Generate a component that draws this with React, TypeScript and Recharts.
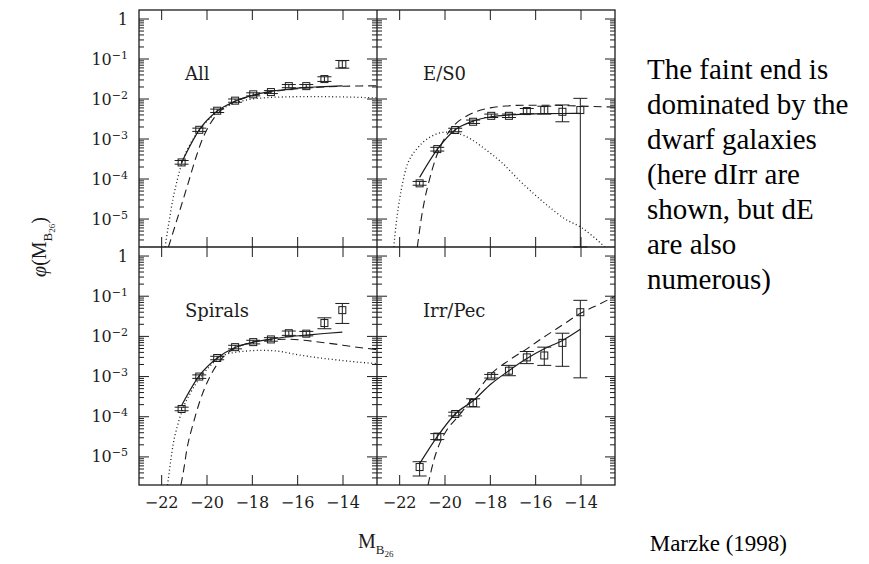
import React from "react";
import { ComposedChart, Line, XAxis, YAxis, ErrorBar } from "recharts";

const INK = "#1c1c1c";
const PG_FONT = "'DejaVu Serif', serif";
const TIMES = "'Liberation Serif', 'Times New Roman', serif";

// axes
const X_DOMAIN: [number, number] = [-23, -12.5];
const Y_DOMAIN: [number, number] = [2e-6, 1.679];
const xTickValues = [-22, -20, -18, -16, -14];
const yDecades = [-6, -5, -4, -3, -2, -1, 0];
const yMultipliers = [1, 2, 3, 4, 5, 6, 7, 8, 9];

// magnitude bins of the data points (shared by all panels)
const binMag = [-21.12, -20.34, -19.55, -18.76, -17.96, -17.18, -16.39, -15.62, -14.82, -14.03];

// All
const allPhi = [2.6e-4, 1.7e-3, 5.1e-3, 9.1e-3, 1.31e-2, 1.49e-2, 2.1e-2, 2.1e-2, 3.15e-2, 7.4e-2];
const allLo = [2.35e-4, 1.55e-3, 4.6e-3, 8.3e-3, 1.2e-2, 1.37e-2, 1.92e-2, 1.92e-2, 2.75e-2, 5.9e-2];
const allHi = [2.9e-4, 1.87e-3, 5.6e-3, 1.0e-2, 1.43e-2, 1.62e-2, 2.3e-2, 2.3e-2, 3.6e-2, 9.2e-2];
const allFit = [2.6e-4, 1.7e-3, 5.0e-3, 8.8e-3, 1.25e-2, 1.55e-2, 1.78e-2, 1.95e-2, 2.05e-2, 2.14e-2];
const allDashM = [-21.7, -21.4, -21.1, -20.8, -20.5, -20.2, -19.9, -19.6, -19.2, -18.8, -18.3, -17.6, -17.0, -16.0, -15.0, -14.0, -13.0, -12.5];
const allDashPhi = [2e-6, 7e-6, 2.5e-5, 9e-5, 3.3e-4, 1.0e-3, 2.2e-3, 3.9e-3, 6.3e-3, 8.5e-3, 1.08e-2, 1.35e-2, 1.55e-2, 1.8e-2, 1.98e-2, 2.08e-2, 2.13e-2, 2.14e-2];
const allDotM = [-21.85, -21.7, -21.5, -21.3, -21.1, -20.8, -20.4, -20.0, -19.6, -19.2, -18.75, -18.2, -17.5, -16.5, -15.5, -14.5, -13.5, -12.5];
const allDotPhi = [2e-6, 7e-6, 3.2e-5, 1.0e-4, 2.6e-4, 6.5e-4, 1.5e-3, 2.8e-3, 4.5e-3, 6.3e-3, 8.0e-3, 9.6e-3, 1.07e-2, 1.13e-2, 1.15e-2, 1.14e-2, 1.11e-2, 1.06e-2];

// E/S0
const esPhi = [7.8e-5, 5.6e-4, 1.68e-3, 2.7e-3, 3.8e-3, 3.8e-3, 5.0e-3, 5.3e-3, 4.8e-3, 5.3e-3];
const esLo = [7.0e-5, 5.0e-4, 1.52e-3, 2.45e-3, 3.45e-3, 3.45e-3, 4.3e-3, 4.2e-3, 2.7e-3, 2e-6];
const esHi = [8.7e-5, 6.2e-4, 1.86e-3, 2.98e-3, 4.2e-3, 4.2e-3, 5.8e-3, 6.6e-3, 7.1e-3, 1.04e-2];
const esFit = [1.1e-4, 5.5e-4, 1.7e-3, 2.8e-3, 3.6e-3, 4.0e-3, 4.2e-3, 4.3e-3, 4.35e-3, 4.4e-3];
const esDashM = [-21.22, -21.05, -20.9, -20.7, -20.4, -20.1, -19.8, -19.5, -19.1, -18.6, -18.0, -17.3, -16.5, -15.5, -14.5, -13.5, -12.5];
const esDashPhi = [2e-6, 1e-5, 3e-5, 9e-5, 3.4e-4, 8.5e-4, 1.6e-3, 2.5e-3, 3.6e-3, 4.9e-3, 6.0e-3, 6.7e-3, 7.0e-3, 7.0e-3, 6.8e-3, 6.5e-3, 6.3e-3];
const esDotM = [-22.26, -22.15, -22.0, -21.85, -21.7, -21.5, -21.26, -21.0, -20.68, -20.3, -19.95, -19.6, -19.2, -18.8, -18.2, -17.5, -16.7, -16.0, -15.4, -14.7, -14.0, -13.5, -12.95];
const esDotPhi = [2e-6, 8e-6, 3.2e-5, 9e-5, 2e-4, 3.6e-4, 5.5e-4, 8e-4, 1.1e-3, 1.38e-3, 1.48e-3, 1.45e-3, 1.25e-3, 9.5e-4, 5.4e-4, 2.6e-4, 9e-5, 3.9e-5, 2.0e-5, 1.0e-5, 6.2e-6, 3.8e-6, 2e-6];

// Spirals
const spPhi = [1.56e-4, 1.0e-3, 2.9e-3, 5.4e-3, 7.2e-3, 8.4e-3, 1.2e-2, 1.17e-2, 2.15e-2, 4.5e-2];
const spLo = [1.41e-4, 0.9e-3, 2.62e-3, 4.9e-3, 6.5e-3, 7.6e-3, 1.06e-2, 1.03e-2, 1.55e-2, 2.1e-2];
const spHi = [1.73e-4, 1.1e-3, 3.2e-3, 6.0e-3, 8.0e-3, 9.3e-3, 1.36e-2, 1.33e-2, 2.9e-2, 6.6e-2];
const spFit = [1.9e-4, 1.05e-3, 2.9e-3, 5.3e-3, 7.2e-3, 8.6e-3, 9.8e-3, 1.08e-2, 1.18e-2, 1.28e-2];
const spDashM = [-21.15, -21.0, -20.9, -20.6, -20.31, -20.0, -19.73, -19.4, -19.1, -18.76, -18.3, -17.7, -17.1, -16.5, -15.8, -15.2, -14.5, -13.5, -12.5];
const spDashPhi = [2e-6, 6e-6, 1.4e-5, 7e-5, 2.5e-4, 7e-4, 1.4e-3, 2.6e-3, 3.8e-3, 5.1e-3, 6.5e-3, 7.7e-3, 8.3e-3, 8.5e-3, 8.1e-3, 7.4e-3, 6.6e-3, 5.5e-3, 4.7e-3];
const spDotM = [-21.74, -21.6, -21.49, -21.3, -21.1, -20.7, -20.34, -19.9, -19.55, -19.2, -18.76, -18.2, -17.6, -16.9, -16.0, -15.0, -14.0, -13.0, -12.5];
const spDotPhi = [2e-6, 8e-6, 2.1e-5, 6e-5, 1.4e-4, 4.2e-4, 8.8e-4, 1.75e-3, 2.7e-3, 3.5e-3, 4.0e-3, 4.35e-3, 4.5e-3, 4.3e-3, 3.5e-3, 2.9e-3, 2.5e-3, 2.2e-3, 2.1e-3];

// Irr/Pec
const irPhi = [5.6e-6, 3.2e-5, 1.17e-4, 2.2e-4, 1.02e-3, 1.4e-3, 3.0e-3, 3.35e-3, 6.9e-3, 4.0e-2];
const irLo = [3.35e-6, 2.7e-5, 1.05e-4, 1.75e-4, 0.92e-3, 1.05e-3, 2.1e-3, 1.9e-3, 1.8e-3, 9.3e-4];
const irHi = [7.6e-6, 3.8e-5, 1.3e-4, 2.8e-4, 1.13e-3, 1.9e-3, 4.2e-3, 5.4e-3, 1.2e-2, 7.9e-2];
const irFit = [6.8e-6, 3.2e-5, 1.17e-4, 2.5e-4, 6.6e-4, 1.4e-3, 2.8e-3, 4.9e-3, 7.9e-3, 1.5e-2];
const irDashM = [-20.75, -20.5, -20.2, -19.94, -19.43, -18.77, -17.96, -17.2, -16.39, -15.64, -14.83, -14.04, -13.2, -12.5];
const irDashPhi = [2e-6, 8e-6, 2.4e-5, 4.5e-5, 1.0e-4, 3.0e-4, 1.17e-3, 2.5e-3, 4.9e-3, 9.6e-3, 1.9e-2, 3.7e-2, 6.3e-2, 1.0e-1];

const noteLines = ["The faint end is", "dominated by the", "dwarf galaxies", "(here dIrr are", "shown, but dE", "are also", "numerous)"];

const yTicks: number[] = [];
yDecades.forEach((d) =>
  yMultipliers.forEach((k) => {
    const v = k * Math.pow(10, d);
    if (v > Y_DOMAIN[0] * 1.01 && v < Y_DOMAIN[1]) yTicks.push(v);
  })
);

const rows = (m: number[], phi: number[]) => m.map((v, i) => ({ m: v, phi: phi[i] }));
const points = (phi: number[], lo: number[], hi: number[]) =>
  binMag.map((m, i) => ({ m, phi: phi[i], err: [phi[i] - lo[i], hi[i] - phi[i]] }));

const PW = 238;
const AXW = 50;
const AXH = 30;

const panels = [
  { title: "All", left: 139, top: 10, h: 237, yLabels: true, xLabels: false,
    pts: points(allPhi, allLo, allHi), fit: rows(binMag, allFit), dash: rows(allDashM, allDashPhi), dot: rows(allDotM, allDotPhi) },
  { title: "E/S0", left: 377, top: 10, h: 237, yLabels: false, xLabels: false,
    pts: points(esPhi, esLo, esHi), fit: rows(binMag, esFit), dash: rows(esDashM, esDashPhi), dot: rows(esDotM, esDotPhi) },
  { title: "Spirals", left: 139, top: 247, h: 238, yLabels: true, xLabels: true,
    pts: points(spPhi, spLo, spHi), fit: rows(binMag, spFit), dash: rows(spDashM, spDashPhi), dot: rows(spDotM, spDotPhi) },
  { title: "Irr/Pec", left: 377, top: 247, h: 238, yLabels: false, xLabels: true,
    pts: points(irPhi, irLo, irHi), fit: rows(binMag, irFit), dash: rows(irDashM, irDashPhi), dot: null },
];

function YTick(props: any) {
  const { x, y, payload, labels } = props;
  const e = Math.log10(payload.value);
  const p = Math.round(e);
  const major = Math.abs(e - p) < 1e-6;
  const len = major ? 10 : 5;
  return (
    <g>
      <line x1={x} y1={y} x2={x + len} y2={y} stroke={INK} strokeWidth={1} />
      <line x1={x + PW} y1={y} x2={x + PW - len} y2={y} stroke={INK} strokeWidth={1} />
      {labels && major && (
        <text x={x - 11} y={y + 5.5} textAnchor="end" fontFamily={PG_FONT} fontSize={16} fill={INK}>
          {p === 0 ? "1" : (
            <>
              10<tspan dy={-6} fontSize={11}>{"\u2212" + -p}</tspan>
            </>
          )}
        </text>
      )}
    </g>
  );
}

function XTick(props: any) {
  const { x, y, payload, labels, plotH } = props;
  return (
    <g>
      <line x1={x} y1={y} x2={x} y2={y - 10} stroke={INK} strokeWidth={1} />
      <line x1={x} y1={y - plotH} x2={x} y2={y - plotH + 10} stroke={INK} strokeWidth={1} />
      {labels && (
        <text x={x} y={y + 23} textAnchor="middle" fontFamily={PG_FONT} fontSize={16} fill={INK}>
          {"\u2212" + Math.abs(payload.value)}
        </text>
      )}
    </g>
  );
}

const squareDot = (p: any) => (
  <rect key={p.index} x={p.cx - 3.5} y={p.cy - 3.5} width={7} height={7} fill="none" stroke={INK} strokeWidth={1} />
);

function Panel({ p }: { p: (typeof panels)[number] }) {
  return (
    <div style={{ position: "absolute", left: p.left - AXW, top: p.top }}>
      <ComposedChart width={PW + AXW} height={p.h + AXH} margin={{ top: 0, right: 0, bottom: 0, left: 0 }}>
        <XAxis
          dataKey="m"
          type="number"
          domain={X_DOMAIN}
          allowDataOverflow
          ticks={xTickValues}
          interval={0}
          tickSize={0}
          tickMargin={0}
          axisLine={false}
          height={AXH}
          tick={(t: any) => <XTick {...t} labels={p.xLabels} plotH={p.h} />}
        />
        <YAxis
          type="number"
          scale="log"
          domain={Y_DOMAIN}
          allowDataOverflow
          ticks={yTicks}
          interval={0}
          tickSize={0}
          tickMargin={0}
          axisLine={false}
          width={AXW}
          tick={(t: any) => <YTick {...t} labels={p.yLabels} />}
        />
        {p.dot && (
          <Line data={p.dot} dataKey="phi" type="monotone" stroke={INK} strokeWidth={1.3} strokeDasharray="1 2.6" dot={false} isAnimationActive={false} />
        )}
        <Line data={p.dash} dataKey="phi" type="monotone" stroke={INK} strokeWidth={1.1} strokeDasharray="8 5" dot={false} isAnimationActive={false} />
        <Line data={p.fit} dataKey="phi" type="monotone" stroke={INK} strokeWidth={1.2} dot={false} isAnimationActive={false} />
        <Line data={p.pts} dataKey="phi" stroke="none" dot={squareDot} isAnimationActive={false}>
          <ErrorBar dataKey="err" width={7} stroke={INK} strokeWidth={1} direction="y" />
        </Line>
      </ComposedChart>
    </div>
  );
}

export default function App() {
  return (
    <div style={{ position: "absolute", left: 0, top: 0, width: 869, height: 564, background: "#fff", overflow: "hidden" }}>
      {panels.map((p) => (
        <Panel key={p.title} p={p} />
      ))}
      <svg width={869} height={564} style={{ position: "absolute", left: 0, top: 0, pointerEvents: "none" }}>
        <rect x={139} y={10} width={476} height={475} fill="none" stroke={INK} strokeWidth={1.3} />
        <line x1={377} y1={10} x2={377} y2={485} stroke={INK} strokeWidth={1.3} />
        <line x1={139} y1={247} x2={615} y2={247} stroke={INK} strokeWidth={1.3} />
        {panels.map((p) => (
          <text key={p.title} x={p.left + 46} y={p.top + 70} fontFamily={PG_FONT} fontSize={18} fill={INK}>
            {p.title}
          </text>
        ))}
        <text x={358} y={548} fontFamily={TIMES} fontSize={20} fill={INK}>
          M<tspan dy={6} fontSize={13}>B</tspan>
          <tspan dy={3} fontSize={9}>26</tspan>
        </text>
        <text transform="translate(46,247) rotate(-90)" textAnchor="middle" fontFamily={TIMES} fontSize={20} fill={INK}>
          <tspan fontStyle="italic">{"\u03C6"}</tspan>(M<tspan dy={6} fontSize={13}>B</tspan>
          <tspan dy={3} fontSize={9}>26</tspan>
          <tspan dy={-9}>)</tspan>
        </text>
        <text x={787} y={551} textAnchor="end" fontFamily={TIMES} fontSize={23} fill="#000">
          Marzke (1998)
        </text>
      </svg>
      <div
        style={{
          position: "absolute",
          left: 647,
          top: 52,
          fontFamily: TIMES,
          fontSize: 29,
          lineHeight: "35px",
          color: "#000",
          whiteSpace: "pre",
        }}
      >
        {noteLines.join("\n")}
      </div>
    </div>
  );
}
